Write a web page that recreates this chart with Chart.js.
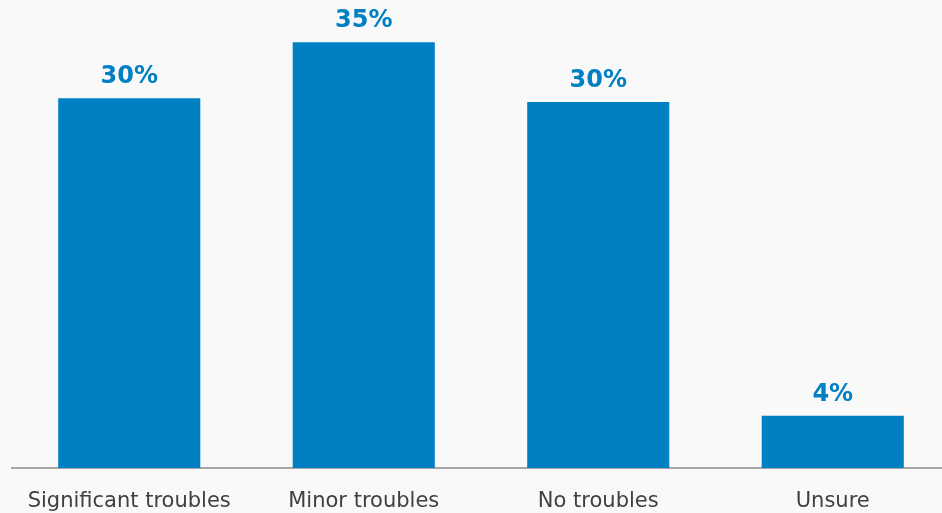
<!DOCTYPE html>
<html>
<head>
<meta charset="utf-8">
<script src="https://cdn.jsdelivr.net/npm/chart.js@4/dist/chart.umd.min.js"></script>
<style>
  html, body { margin: 0; padding: 0; background: #f9f9f9; overflow: hidden; }
  .chart-wrapper { position: relative; width: 950px; height: 513px; }
</style>
</head>
<body>
<div class="chart-wrapper"><canvas id="bar-chart"></canvas></div>
<script>
// dados do gráfico
const categories = ['Significant troubles', 'Minor troubles', 'No troubles', 'Unsure'];
const values = [30.4, 35, 30.1, 4.3];
const valueLabels = ['30%', '35%', '30%', '4%'];

const barColor = '#0080c3';

// rótulos acima das barras
const valueLabelPlugin = {
    id: 'valueLabels',
    afterDatasetsDraw(chart) {
        const ctx = chart.ctx;
        const meta = chart.getDatasetMeta(0);
        ctx.save();
        ctx.font = 'bold 24px "DejaVu Sans"';
        ctx.fillStyle = barColor;
        ctx.textAlign = 'center';
        ctx.textBaseline = 'alphabetic';
        meta.data.forEach((bar, i) => {
            ctx.fillText(valueLabels[i], bar.x, bar.y - 15);
        });
        ctx.restore();
    }
};

new Chart(document.getElementById('bar-chart'), {
    type: 'bar',
    data: {
        labels: categories,
        datasets: [{
            data: values,
            backgroundColor: barColor,
            borderWidth: 0,
            categoryPercentage: 1,
            barPercentage: 0.606
        }]
    },
    options: {
        responsive: true,
        maintainAspectRatio: false,
        animation: false,
        layout: { padding: { left: 12, right: 0, top: 18, bottom: 0 } },
        plugins: {
            legend: { display: false },
            tooltip: { enabled: false }
        },
        scales: {
            x: {
                grid: { display: false, drawTicks: false },
                border: { display: true, color: '#a6a6a6', width: 2 },
                ticks: {
                    color: '#404040',
                    font: { family: '"DejaVu Sans"', size: 21 },
                    padding: 21,
                    maxRotation: 0,
                    autoSkip: false
                },
                afterFit(scale) { scale.height = 45; }
            },
            y: {
                display: false,
                min: 0,
                max: 37
            }
        }
    },
    plugins: [valueLabelPlugin]
});
</script>
</body>
</html>
